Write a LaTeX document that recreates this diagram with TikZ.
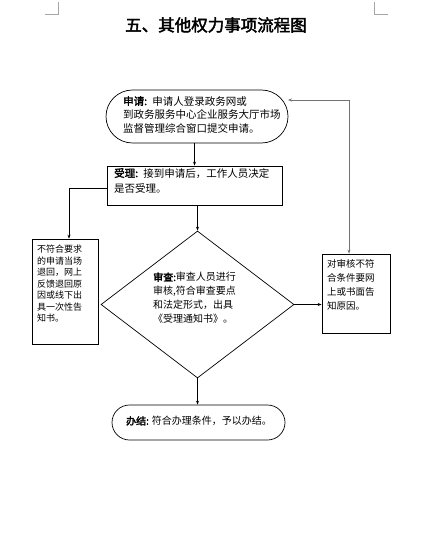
\documentclass[tikz,border=0pt]{standalone}
\usepackage{fontspec}
\usetikzlibrary{shapes.geometric,shapes.misc,arrows.meta}
\newfontfamily\cjk{Noto Sans CJK SC}[AutoFakeBold=2.5]
\begin{document}
\begin{tikzpicture}[x=1pt,y=-1pt,font=\cjk,
  arr/.style={line width=0.6pt,draw=black,-{Stealth[length=4pt,width=3pt]}},
  pill/.style={draw,line width=0.7pt,rounded rectangle,inner sep=0pt},
  boxx/.style={draw,line width=0.7pt,rectangle,inner sep=0pt},
  txt/.style={anchor=north west,inner sep=0pt,align=left},
  cornermark/.style={draw=black!35,line width=0.6pt}]
\useasboundingbox (0,0) rectangle (427,545);
% corner marks
\coordinate (c1) at (45,14); \coordinate (c2) at (58,14); \coordinate (c3) at (58,2);
\coordinate (c4) at (374,2); \coordinate (c5) at (374,14); \coordinate (c6) at (388,14);
\draw[cornermark] (c1) -- (c2) -- (c3);
\draw[cornermark] (c4) -- (c5) -- (c6);
% title
\node[inner sep=0pt,font=\cjk\bfseries\fontsize{16.5}{18}\selectfont] (title) at (216,25) {五、其他权力事项流程图};
% shapes
\node[pill,minimum width=182pt,minimum height=53pt] (apply) at (197,116.5) {};
\node[boxx,minimum width=175pt,minimum height=39pt] (accept) at (194.5,185.5) {};
\node[boxx,minimum width=66pt,minimum height=105pt] (reject) at (65,291.5) {};
\node[draw,line width=0.7pt,diamond,inner sep=0pt,aspect=1.313,minimum width=193pt,minimum height=147pt] (review) at (197.5,304.5) {};
\node[boxx,minimum width=68pt,minimum height=79pt] (notify) at (356,293.5) {};
\node[pill,minimum width=173pt,minimum height=35pt] (done) at (198.5,422.5) {};
% texts
\node[txt,text width=165pt,font=\cjk\fontsize{10.5}{13.5}\selectfont] (tapply) at (123,96) {\textbf{申请:} 申请人登录政务网或\\到政务服务中心企业服务大厅市场\\监督管理综合窗口提交申请。};
\node[txt,text width=168pt,font=\cjk\fontsize{10.5}{15}\selectfont] (taccept) at (114,168) {\textbf{受理:} 接到申请后，工作人员决定\\是否受理。};
\node[txt,text width=60pt,font=\cjk\fontsize{9}{11.5}\selectfont] (treject) at (37,245) {不符合要求\\的申请当场\\退回，网上\\反馈退回原\\因或线下出\\具一次性告\\知书。};
\node[txt,text width=100pt,font=\cjk\fontsize{10}{13.7}\selectfont] (treview) at (153,272.3) {\textbf{审查:}审查人员进行\\审核,符合审查要点\\和法定形式，出具\\《受理通知书》。};
\node[txt,text width=60pt,font=\cjk\fontsize{9.5}{14}\selectfont] (tnotify) at (327,259.5) {对审核不符\\合条件要网\\上或书面告\\知原因。};
\node[inner sep=0pt,font=\cjk\fontsize{10}{12}\selectfont] (tdone) at (199,421) {\textbf{办结:} 符合办理条件，予以办结。};
% connectors
\coordinate (back) at (288,100);
\draw[arr] (accept.north |- apply.south) -- (accept.north);
\draw[arr] ([yshift=-2.5pt]accept.west) -| ([xshift=4pt]reject.north);
\draw[arr] (review.north |- accept.south) -- (review.north);
\draw[arr] (review.east) -- (review.east -| notify.west);
\draw[line width=0.8pt,draw=black!55,{Stealth[length=4pt,width=3pt]}-{Stealth[length=4pt,width=3pt]}] (back) -| ([xshift=-7pt]notify.north);
\draw[arr] (review.south) -- (review.south |- done.north);
\end{tikzpicture}
\end{document}
